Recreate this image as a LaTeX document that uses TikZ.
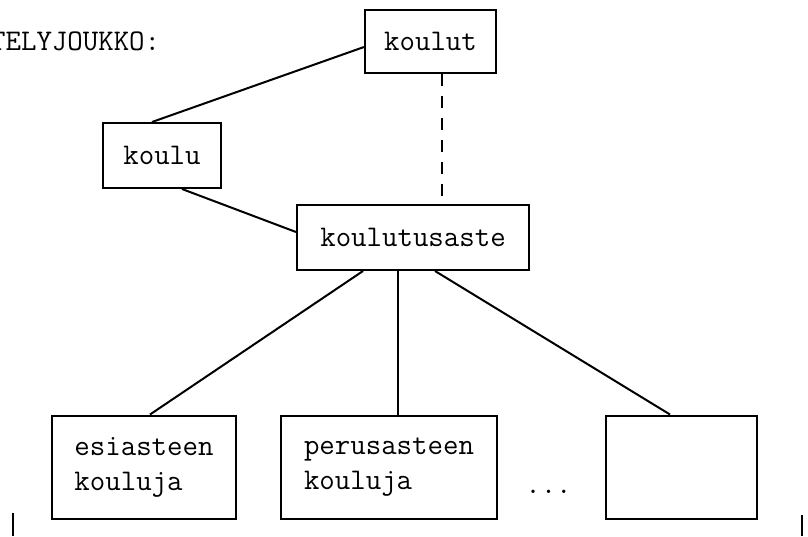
\documentclass[tikz,border=0pt]{standalone}
\begin{document}
\begin{tikzpicture}[x=1pt,y=-1pt,
  every node/.style={font=\fontsize{30}{35}\selectfont\ttfamily},
  box/.style={draw, line width=2pt, inner sep=0pt, align=left},
  conn/.style={line width=2pt},
  dashconn/.style={line width=2pt, dash pattern=on 12pt off 10pt}]
\useasboundingbox (0,0) rectangle (808,536);
\clip (0,0) rectangle (808,536);
% title
\node[anchor=base west, inner sep=0pt] (title) at (-10,50) {TELYJOUKKO:};
% boxes
\node[box, minimum width=131pt, minimum height=63pt] (koulut) at (430.5,41.5) {koulut};
\node[box, minimum width=118pt, minimum height=65pt] (koulu) at (162,155.5) {koulu};
\node[box, minimum width=232pt, minimum height=65pt] (aste) at (413,237.5) {koulutusaste};
\node[box, minimum width=184pt, minimum height=103pt] (esi) at (144,467) {esiasteen\\kouluja};
\node[box, minimum width=216pt, minimum height=103pt] (perus) at (389,467) {perusasteen\\kouluja};
\node[box, minimum width=151pt, minimum height=103pt] (empty) at (681.5,467) {};
\node[anchor=base, inner sep=0pt] (dots) at (548.5,493) {...};
% connectors
\draw[conn] ([yshift=-5.5pt]koulut.west) -- ([xshift=-10pt]koulu.north);
\draw[conn] ([xshift=20pt]koulu.south) -- ([yshift=5.5pt]aste.west);
\draw[dashconn] ([xshift=11.5pt]koulut.south) -- ([xshift=11.5pt]koulut.south |- aste.north);
\draw[conn] ([xshift=-50pt]aste.south) -- ([xshift=6pt]esi.north);
\draw[conn] ([xshift=-15pt]aste.south) -- ([xshift=-15pt]aste.south |- perus.north);
\draw[conn] ([xshift=22pt]aste.south) -- ([xshift=-11.5pt]empty.north);
% frame ticks
\coordinate (lt1) at (13,513);
\coordinate (lt2) at (13,536);
\coordinate (rt1) at (802,515);
\coordinate (rt2) at (802,536);
\draw[conn] (lt1) -- (lt2);
\draw[conn] (rt1) -- (rt2);
\end{tikzpicture}
\end{document}
